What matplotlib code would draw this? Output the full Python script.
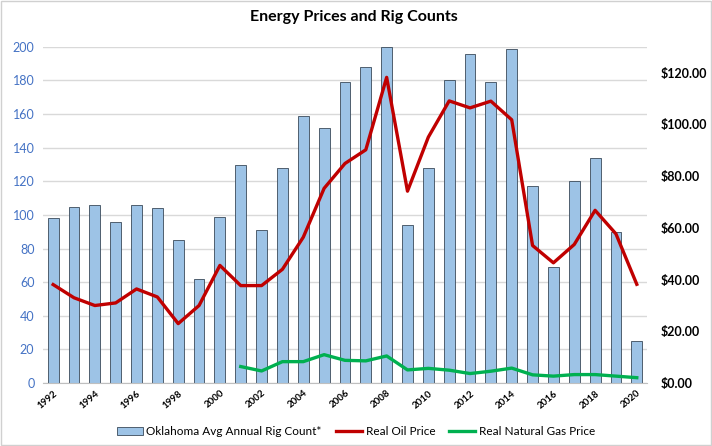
import numpy as np
import matplotlib
matplotlib.use('Agg')
import matplotlib.pyplot as plt
from matplotlib.patches import Rectangle

plt.rcParams['font.family'] = ['Lato', 'DejaVu Sans']

years = list(range(1992, 2021))
rig_count = [98, 105, 106, 96, 106, 104, 85, 62, 99, 130, 91, 128, 159, 152, 179,
             188, 200, 94, 128, 180, 196, 179, 199, 117, 69, 120, 134, 90, 25]
oil_price = [38.1, 33.0, 30.0, 31.0, 36.4, 33.3, 23.0, 30.0, 45.5, 37.7, 37.7, 44.0,
             56.4, 75.3, 84.9, 90.2, 118.2, 74.2, 95.1, 109.1, 106.4, 109.0, 101.8,
             53.2, 46.5, 53.6, 66.8, 57.7, 38.2]
gas_years = list(range(2001, 2021))
gas_price = [6.4, 4.7, 8.3, 8.3, 11.0, 8.8, 8.6, 10.5, 5.1, 5.7, 5.0, 3.7, 4.6, 5.8,
             3.2, 2.7, 3.3, 3.3, 2.7, 2.1]

x = np.arange(len(years))
gx = np.array([years.index(y) for y in gas_years])

fig = plt.figure(figsize=(7.12, 4.46), dpi=100)
fig.patches.append(Rectangle((0.002, 0.002), 0.996, 0.996, transform=fig.transFigure,
                             fill=False, edgecolor='#d0d0d0', linewidth=1))
ax = fig.add_axes([0.060, 0.141, 0.849, 0.754])

bars = ax.bar(x, rig_count, width=0.52, color='#9dc3e6', edgecolor='#3a4a5a',
              linewidth=0.6, label='Oklahoma Avg Annual Rig Count*', zorder=2)
ax.set_ylim(0, 200)
ax.set_yticks(range(0, 201, 20))
ax.set_xlim(-0.5, len(years) - 0.5)
ax.grid(axis='y', color='#d9d9d9', linewidth=1, zorder=0)
ax.set_axisbelow(True)
for s in ['top', 'right', 'left']:
    ax.spines[s].set_visible(False)
ax.spines['bottom'].set_color('#bfbfbf')
ax.tick_params(axis='y', length=0, labelsize=9, labelcolor='#4472c4', pad=6)
ax.set_xticks(x[::2])
ax.set_xticklabels([str(y) for y in years[::2]], rotation=40, fontsize=7,
                   fontweight='bold', ha='right', rotation_mode='anchor')
ax.tick_params(axis='x', length=0, pad=4)

ax2 = ax.twinx()
oil, = ax2.plot(x, oil_price, color='#c00000', linewidth=2.4, label='Real Oil Price', zorder=3)
gas, = ax2.plot(gx, gas_price, color='#00b050', linewidth=2.4, label='Real Natural Gas Price', zorder=3)
ax2.set_ylim(0, 130)
ax2.set_yticks(range(0, 121, 20))
ax2.set_yticklabels(['${:.2f}'.format(v) for v in range(0, 121, 20)])
ax2.tick_params(axis='y', length=0, labelsize=9, pad=10)
for t in ax2.get_yticklabels():
    t.set_fontweight('bold')
for s in ax2.spines.values():
    s.set_visible(False)

fig.text(0.497, 0.962, 'Energy Prices and Rig Counts', ha='center', va='center',
         fontsize=11.5, fontweight='bold')

fig.legend(handles=[bars, oil, gas], loc='center', bbox_to_anchor=(0.5, 0.032),
           ncol=3, frameon=False, fontsize=8.5, handlelength=2.2, columnspacing=1.2,
           handletextpad=0.3)

fig.savefig('out.png', dpi=100)
